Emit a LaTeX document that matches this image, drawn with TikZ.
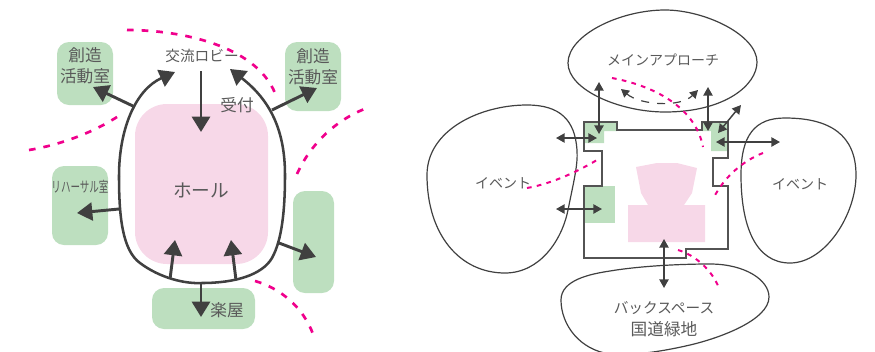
\documentclass[tikz,border=0pt]{standalone}
\usepackage{fontspec}
\setmainfont{Noto Sans CJK JP}
\usetikzlibrary{arrows.meta}
\definecolor{gr}{HTML}{BDDFBF}
\definecolor{pk}{HTML}{F7D8E8}
\definecolor{mg}{HTML}{F0008C}
\definecolor{dk}{HTML}{404040}
\definecolor{tx}{HTML}{595959}
\tikzset{
 x=0.75pt,y=-0.75pt,
 lbl/.style={text=tx,font=\fontsize{11}{13}\selectfont,inner sep=0pt},
 lblb/.style={text=tx,font=\fontsize{12.5}{14}\selectfont,inner sep=0pt},
 lbls/.style={text=tx,font=\fontsize{10.5}{12}\selectfont,inner sep=0pt},
 grbox/.style={fill=gr,rounded corners=9pt},
 bigarr/.style={draw=dk,line width=2.2pt,-{Triangle[length=11.5pt,width=13.5pt]}},
 outl/.style={draw=dk,line width=1.9pt},
 magd/.style={draw=mg,line width=2pt,dash pattern=on 5pt off 6pt},
 magt/.style={draw=mg,line width=1.5pt,dash pattern=on 3.5pt off 4pt},
 blob/.style={draw=dk,line width=0.9pt},
 plan/.style={draw=dk!90,line width=1.1pt},
 twoarr/.style={draw=dk,line width=1.1pt,{Triangle[length=6.5pt,width=7pt]}-{Triangle[length=6.5pt,width=7pt]}},
}
\begin{document}
\begin{tikzpicture}
\useasboundingbox (0,0) rectangle (875,351);
% left: green rooms and hall
\fill[grbox] (57,42) rectangle (113,105);
\fill[grbox] (285,42) rectangle (341,111);
\fill[grbox] (52,166) rectangle (108,245);
\fill[grbox] (152,288) rectangle (255,329);
\fill[grbox] (293,191) rectangle (334,293);
\fill[pk,rounded corners=24pt] (135,104) rectangle (268,264);
% magenta
\draw[magd] (127,30) .. controls (180,30) and (255,45) .. (275,93);
\draw[magd] (29,150) .. controls (60,145) and (95,132) .. (120,115);
\draw[magd] (297,174) .. controls (310,145) and (335,120) .. (367,108);
\draw[magd] (255,281) .. controls (280,288) and (303,307) .. (313,334);
% outline
\draw[outl,-{Triangle[length=11.5pt,width=13.5pt]}] (119,176) .. controls (119,130) and (135,90) .. (175,72);
\draw[outl,-{Triangle[length=11.5pt,width=13.5pt]}] (285,175) .. controls (285,130) and (270,100) .. (230,69);
\draw[outl] (119,176) .. controls (119,215) and (122,250) .. (140,263) .. controls (160,278) and (185,284) .. (202,283) .. controls (235,283) and (262,275) .. (272,258) .. controls (282,240) and (285,210) .. (285,175);
% left arrows
\coordinate (a1) at (135,107); \coordinate (a1t) at (93,87);
\coordinate (a2) at (272,110); \coordinate (a2t) at (317,88);
\coordinate (a3) at (201,71); \coordinate (a3t) at (201,132);
\coordinate (a4) at (119,209); \coordinate (a4t) at (77,213);
\coordinate (a5) at (170,279); \coordinate (a5t) at (175,240);
\coordinate (a6) at (236,280); \coordinate (a6t) at (231,240);
\coordinate (a7) at (201,283); \coordinate (a7t) at (201,317);
\coordinate (a8) at (279,243); \coordinate (a8t) at (316,257);
\foreach \n in {1,...,8} \draw[bigarr] (a\n) -- (a\n t);
% left labels
\node[lblb] (t1) at (85,55) {創造};
\node[lblb] (t2) at (85,76) {活動室};
\node[lblb] (t3) at (313,56) {創造};
\node[lblb] (t4) at (313,77) {活動室};
\node[lbl] (t5) at (202,56) {交流ロビー};
\node[lblb] (t6) at (237,105) {受付};
\node[lbl,font=\fontsize{14}{16}\selectfont] (t7) at (201,190) {ホール};
\node[lbl,xscale=0.65,font=\fontsize{11}{13}\selectfont] (t8) at (80,187) {リハーサル室};
\node[lblb] (t9) at (227,310) {楽屋};
% right: blobs
\draw[blob] (527,105) .. controls (480,105) and (427,130) .. (427,175) .. controls (427,235) and (460,273) .. (505,273) .. controls (540,273) and (562,240) .. (568,210) .. controls (574,180) and (578,165) .. (577,150) .. controls (575,120) and (560,105) .. (527,105) -- cycle;
\draw[blob] (785,118) .. controls (755,118) and (741,135) .. (741,175) .. controls (741,225) and (755,263) .. (790,263) .. controls (825,263) and (856,215) .. (856,175) .. controls (856,135) and (830,118) .. (785,118) -- cycle;
\draw[blob] (568,63) .. controls (568,35) and (620,10) .. (665,10) .. controls (705,10) and (757,35) .. (757,62) .. controls (757,85) and (725,112) .. (665,112) .. controls (620,112) and (568,90) .. (568,63) -- cycle;
\draw[blob] (561,300) .. controls (561,280) and (590,274) .. (610,271) .. controls (640,266) and (680,264) .. (710,264) .. controls (745,264) and (769,280) .. (769,297) .. controls (769,320) and (720,338) .. (690,345) .. controls (660,352) and (630,356) .. (610,354) .. controls (580,350) and (561,325) .. (561,300) -- cycle;
% right: green / pink
\fill[gr] (585,123) -- (617,123) -- (617,131) -- (604,131) -- (604,143) -- (585,143) -- cycle;
\fill[gr] (702,123) -- (728,123) -- (728,151) -- (711,151) -- (711,131) -- (702,131) -- cycle;
\fill[gr] (585,186) rectangle (615,223);
\fill[pk] (636,167) -- (657,163) -- (677,163) -- (697,168) -- (692,193) -- (684,205) -- (705,205) -- (705,242) -- (628,242) -- (628,205) -- (648,205) -- (641,193) -- cycle;
% plan
\draw[plan] (584,122) -- (617,122) -- (617,130) -- (702,130) -- (702,122) -- (728,122) -- (728,158) -- (713,158) -- (713,186) -- (728,186) -- (728,249) -- (686,249) -- (686,258) -- (584,258) -- (584,186) -- (602,186) -- (602,151) -- (584,151) -- cycle;
% magenta
\draw[magt] (612,78) .. controls (650,85) and (695,105) .. (703,147);
\draw[magt] (527,188) .. controls (550,184) and (575,173) .. (597,160);
\draw[magt] (763,153) .. controls (745,160) and (725,175) .. (713,199);
\draw[magt] (678,250) .. controls (695,255) and (712,270) .. (719,288);
% double arrows
\coordinate (b1) at (599,82); \coordinate (b1t) at (599,134);
\coordinate (b2) at (556,138); \coordinate (b2t) at (597,138);
\coordinate (b3) at (708,87); \coordinate (b3t) at (708,131);
\coordinate (b4) at (741,105); \coordinate (b4t) at (718,133);
\coordinate (b5) at (716,142); \coordinate (b5t) at (780,142);
\coordinate (b6) at (556,209); \coordinate (b6t) at (602,209);
\coordinate (b7) at (664,239); \coordinate (b7t) at (664,288);
\foreach \n in {1,...,7} \draw[twoarr] (b\n) -- (b\n t);
\draw[dk,line width=0.9pt,dash pattern=on 6pt off 6pt,{Triangle[length=6pt,width=6.5pt]}-{Triangle[length=6pt,width=6.5pt]}] (621,89) .. controls (640,105) and (680,108) .. (698,90);
% right labels
\node[lbls] (r1) at (663,60) {メインアプローチ};
\node[lbls] (r2) at (503,183) {イベント};
\node[lbls] (r3) at (800,184) {イベント};
\node[lbl] (r4) at (664,308) {バックスペース};
\node[lblb] (r5) at (664,329) {国道緑地};
\end{tikzpicture}
\end{document}
